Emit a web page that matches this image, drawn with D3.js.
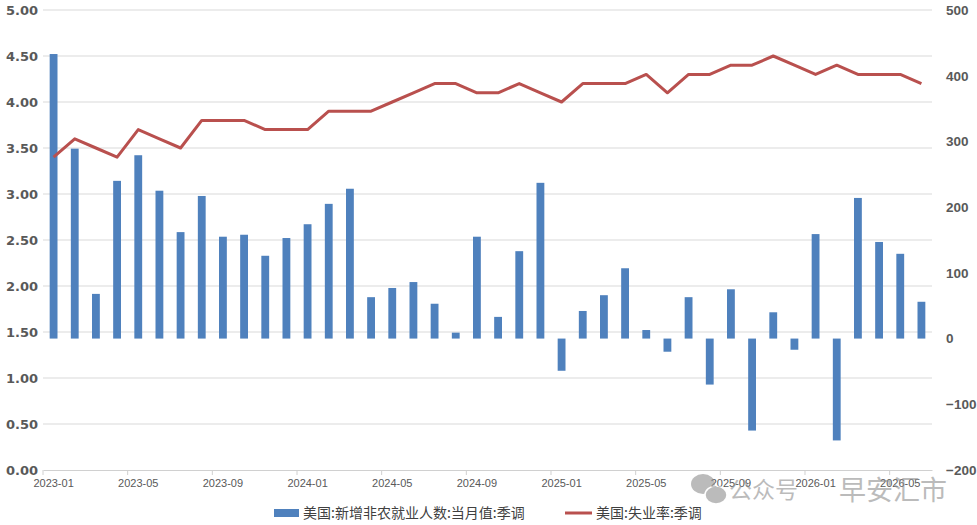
<html lang="zh">

<head>
  <meta charset="UTF-8">
  <title>美国非农与失业率</title>
  <style>
    body { margin: 0; background: #fff; }
    .tick text { fill: #595959; }
  </style>
</head>

<body>
  <div id="chart"></div>
  <script src="https://d3js.org/d3.v7.min.js"></script>

  <script>

    // months shown on the category axis
    const months = [
      "2023-01", "2023-02", "2023-03", "2023-04", "2023-05", "2023-06", "2023-07", "2023-08", "2023-09", "2023-10", "2023-11", "2023-12",
      "2024-01", "2024-02", "2024-03", "2024-04", "2024-05", "2024-06", "2024-07", "2024-08", "2024-09", "2024-10", "2024-11", "2024-12",
      "2025-01", "2025-02", "2025-03", "2025-04", "2025-05", "2025-06", "2025-07", "2025-08", "2025-09", "2025-10", "2025-11", "2025-12",
      "2026-01", "2026-02", "2026-03", "2026-04", "2026-05", "2026-06"
    ];

    // new nonfarm payrolls, thousands (right axis)
    const payrolls = [
      433, 289, 68, 240, 279, 225, 162, 217, 155, 158, 126, 153,
      174, 205, 228, 63, 77, 86, 53, 9, 155, 33, 133, 237,
      -49, 42, 66, 107, 13, -20, 63, -70, 75, -140, 40, -17,
      159, -155, 214, 147, 129, 56
    ];

    // unemployment rate, % (left axis)
    const unemployment = [
      3.4, 3.6, 3.5, 3.4, 3.7, 3.6, 3.5, 3.8, 3.8, 3.8, 3.7, 3.7,
      3.7, 3.9, 3.9, 3.9, 4.0, 4.1, 4.2, 4.2, 4.1, 4.1, 4.2, 4.1,
      4.0, 4.2, 4.2, 4.2, 4.3, 4.1, 4.3, 4.3, 4.4, 4.4, 4.5, 4.4,
      4.3, 4.4, 4.3, 4.3, 4.3, 4.2
    ];

    const xTickLabels = months.filter((d, i) => i % 4 === 0);

    const leftTicks = [0, 0.5, 1, 1.5, 2, 2.5, 3, 3.5, 4, 4.5, 5];
    const rightTicks = [-200, -100, 0, 100, 200, 300, 400, 500];

    const seriesNames = ["美国:新增非农就业人数:当月值:季调", "美国:失业率:季调"];

    const W = 977, H = 525;
    const margin = { top: 10, right: 45, bottom: 55, left: 43 };
    const width = W - margin.left - margin.right,
      height = H - margin.top - margin.bottom;

    const blue = "#4f81bd", red = "#b9504e";

    const svg = d3.select("#chart")
      .append("svg")
      .attr("width", W)
      .attr("height", H)
      .append("g")
      .attr("transform", `translate(${margin.left},${margin.top})`);

    const x = d3.scaleBand()
      .domain(months)
      .range([0, width])
      .paddingInner(0.63)
      .paddingOuter(0.315);

    const yL = d3.scaleLinear().domain([0, 5]).range([height, 0]);
    const yR = d3.scaleLinear().domain([-200, 500]).range([height, 0]);

    // gridlines follow the left axis
    svg.append("g")
      .selectAll("line")
      .data(leftTicks.slice(1))
      .join("line")
      .attr("x1", 0)
      .attr("x2", width)
      .attr("y1", d => yL(d))
      .attr("y2", d => yL(d))
      .attr("stroke", "#d9d9d9")
      .attr("stroke-width", 1);

    // bars
    svg.append("g")
      .selectAll("rect")
      .data(payrolls)
      .join("rect")
      .attr("x", (d, i) => x(months[i]))
      .attr("width", x.bandwidth())
      .attr("y", d => yR(Math.max(0, d)))
      .attr("height", d => Math.abs(yR(d) - yR(0)))
      .attr("fill", blue);

    // x axis
    const step = x.step();
    const xAxis = svg.append("g")
      .attr("transform", `translate(0,${height})`)
      .call(d3.axisBottom(x)
        .tickValues(xTickLabels)
        .tickSize(0)
        .tickPadding(9));
    xAxis.select(".domain").attr("stroke", "#d0d0d0");
    xAxis.selectAll(".tick line").remove();
    xAxis.selectAll(".tick").append("line")
      .attr("x1", -step / 2).attr("x2", -step / 2)
      .attr("y1", 0).attr("y2", 5)
      .attr("stroke", "#d0d0d0");
    xAxis.selectAll(".tick text")
      .style("font-family", "'Liberation Sans', Arial, sans-serif")
      .style("font-size", "11px");

    // left axis
    const leftAxis = svg.append("g")
      .call(d3.axisLeft(yL)
        .tickValues(leftTicks)
        .tickFormat(d3.format(".2f"))
        .tickSize(0)
        .tickPadding(5));
    leftAxis.select(".domain").remove();
    leftAxis.selectAll(".tick text")
      .style("font-family", "'DejaVu Sans', sans-serif")
      .style("font-weight", "bold")
      .style("font-size", "13px");

    // right axis
    const rightAxis = svg.append("g")
      .attr("transform", `translate(${width},0)`)
      .call(d3.axisRight(yR)
        .tickValues(rightTicks)
        .tickSize(0)
        .tickPadding(14));
    rightAxis.select(".domain").remove();
    rightAxis.selectAll(".tick text")
      .style("font-family", "'Liberation Sans', Arial, sans-serif")
      .style("font-weight", "bold")
      .style("font-size", "13.5px");

    // unemployment line
    svg.append("path")
      .datum(unemployment)
      .attr("d", d3.line()
        .x((d, i) => x(months[i]) + x.bandwidth() / 2)
        .y(d => yL(d)))
      .attr("fill", "none")
      .attr("stroke", red)
      .attr("stroke-width", 3)
      .attr("stroke-linejoin", "round");

    // watermark
    const wm = svg.append("g")
      .attr("transform", `translate(${-margin.left},${-margin.top})`)
      .attr("opacity", 0.6)
      .attr("fill", "#8f8f8f")
      .style("font-family", "'Noto Sans CJK SC', sans-serif");
    wm.append("ellipse").attr("cx", 703).attr("cy", 484).attr("rx", 12).attr("ry", 10);
    wm.append("ellipse").attr("cx", 716).attr("cy", 495).attr("rx", 11).attr("ry", 9)
      .attr("stroke", "#fff").attr("stroke-width", 1.5);
    wm.append("text")
      .attr("x", 729).attr("y", 498)
      .style("font-size", "23px")
      .text("公众号");
    wm.append("text")
      .attr("x", 839).attr("y", 500)
      .style("font-size", "27px")
      .text("早安汇市");

    // legend
    const legend = svg.append("g")
      .attr("transform", `translate(0,${513 - margin.top})`)
      .style("font-family", "'Noto Sans CJK SC', sans-serif")
      .style("font-size", "14px");
    legend.append("rect")
      .attr("x", 274 - margin.left).attr("y", -4)
      .attr("width", 25).attr("height", 8)
      .attr("fill", blue);
    legend.append("text")
      .attr("x", 303 - margin.left).attr("y", 5)
      .attr("fill", "#404040")
      .text(seriesNames[0]);
    legend.append("line")
      .attr("x1", 565 - margin.left).attr("x2", 592 - margin.left)
      .attr("y1", 0).attr("y2", 0)
      .attr("stroke", red).attr("stroke-width", 3);
    legend.append("text")
      .attr("x", 596 - margin.left).attr("y", 5)
      .attr("fill", "#404040")
      .text(seriesNames[1]);

  </script>

</body>

</html>
